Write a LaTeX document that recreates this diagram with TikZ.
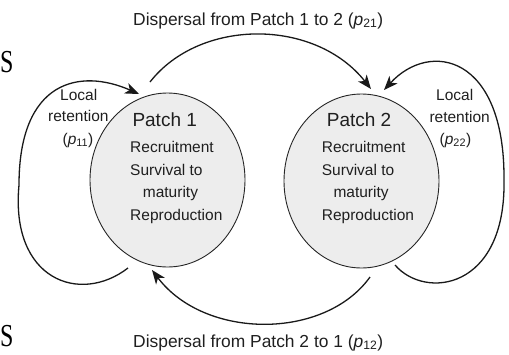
\documentclass[tikz,border=0pt]{standalone}
\usepackage{fontspec}
\setmainfont{Liberation Sans}
\newfontfamily\serifS{Liberation Serif}
\usetikzlibrary{shapes.geometric,arrows.meta}
\newcommand{\pp}[1]{({\itshape p}\textsubscript{#1})}
\begin{document}
\begin{tikzpicture}[x=1pt,y=-1pt,
  patch/.style={ellipse, draw=black!85, line width=0.9pt, fill=black!7,
    minimum width=155pt, minimum height=174pt, inner sep=0pt},
  lbl/.style={anchor=base west, inner sep=0pt, text=black!88,
    font=\fontsize{15.5}{18}\selectfont},
  ptitle/.style={lbl, font=\fontsize{19}{22}\selectfont},
  caption/.style={lbl, font=\fontsize{17.4}{20}\selectfont},
  bigS/.style={anchor=base west, inner sep=0pt, xscale=0.75, transform shape,
    font=\serifS\fontsize{32}{34}\selectfont},
  flow/.style={line width=1.3pt, draw=black!90,
    -{Stealth[length=14pt,width=11pt,inset=4pt]}},
]
\useasboundingbox (0,0) rectangle (509,354);

% patches
\node[patch] (P1) at (167.5,180) {};
\node[patch] (P2) at (361.5,181) {};

% patch texts
\node[ptitle] (t1) at (132.3,126.7) {Patch 1};
\node[lbl] (r1) at (130,152.7) {Recruitment};
\node[lbl] (s1) at (130,175) {Survival to};
\node[lbl] (m1) at (142.7,197.3) {maturity};
\node[lbl] (q1) at (130,220) {Reproduction};

\node[ptitle] (t2) at (326.7,126.7) {Patch 2};
\node[lbl] (r2) at (321.7,152.7) {Recruitment};
\node[lbl] (s2) at (321.7,175) {Survival to};
\node[lbl] (m2) at (333.3,197.3) {maturity};
\node[lbl] (q2) at (321.7,220) {Reproduction};

% local retention labels
\node[lbl] (l1a) at (60,100) {Local};
\node[lbl] (l1b) at (48,121.7) {retention};
\node[lbl] (l1c) at (62.5,144) {\pp{11}};
\node[lbl] (l2a) at (436,100) {Local};
\node[lbl] (l2b) at (429.3,122) {retention};
\node[lbl] (l2c) at (439.5,144) {\pp{22}};

% captions
\node[caption] (ctop) at (133,25) {Dispersal from Patch 1 to 2 \pp{21}};
\node[caption] (cbot) at (133,347) {Dispersal from Patch 2 to 1 \pp{12}};

% letters at the left edge
\node[bigS] (S1) at (0,72) {S};
\node[bigS] (S2) at (0,346) {S};

% connector end points
\coordinate (a1) at (150,82);
\coordinate (a2) at (371,89);
\coordinate (b1) at (370,277);
\coordinate (b2) at (152,270);
\coordinate (c1) at (128,268);
\coordinate (cm) at (19,185);
\coordinate (c2) at (139,94);
\coordinate (d1) at (395,265);
\coordinate (dm) at (504,180);
\coordinate (d2) at (384,90);

% dispersal 1 -> 2
\draw[flow] (a1) .. controls (200,18) and (315,18) .. (a2);
% dispersal 2 -> 1
\draw[flow] (b1) .. controls (325,340) and (205,340) .. (b2);
% local retention patch 1
\draw[flow] (c1) .. controls (80,305) and (10,280) .. (cm)
  .. controls (19,80) and (80,68) .. (c2);
% local retention patch 2
\draw[flow] (d1) .. controls (425,300) and (506,290) .. (dm)
  .. controls (505,55) and (430,40) .. (d2);
\end{tikzpicture}
\end{document}
